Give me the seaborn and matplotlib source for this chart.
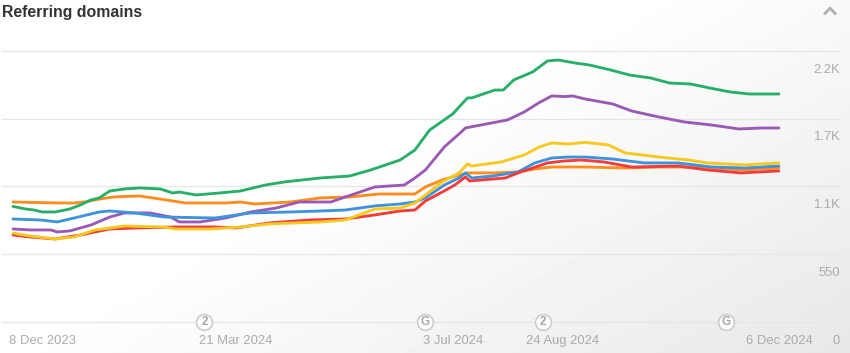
import numpy as np
import pandas as pd
import matplotlib
matplotlib.use("Agg")
import matplotlib.pyplot as plt
import seaborn as sns

# days since 8 Dec 2023 / referring domains
green_days = [0, 6, 10, 14, 20, 27, 32, 37, 41, 46, 53, 60, 70, 76, 79, 87, 98, 108, 120, 129, 146, 160, 170, 184, 191, 198, 209, 216, 218, 229, 233, 238, 247, 254, 259, 267, 274, 284, 293, 303, 312, 322, 331, 341, 350, 357, 364]
green_vals = [938, 917, 909, 893, 893, 917, 950, 990, 1007, 1063, 1080, 1088, 1080, 1047, 1055, 1031, 1047, 1063, 1112, 1137, 1169, 1185, 1234, 1315, 1396, 1558, 1689, 1819, 1819, 1883, 1883, 1965, 2030, 2119, 2127, 2103, 2086, 2046, 2005, 1981, 1940, 1932, 1900, 1867, 1851, 1851, 1851]
purple_days = [0, 8, 18, 21, 27, 37, 46, 53, 65, 75, 79, 89, 101, 113, 125, 136, 151, 158, 172, 186, 191, 196, 205, 213, 215, 235, 243, 250, 256, 262, 266, 272, 285, 294, 307, 319, 332, 345, 356, 364]
purple_vals = [755, 747, 747, 731, 739, 787, 852, 885, 885, 852, 812, 812, 844, 893, 925, 974, 974, 1015, 1096, 1112, 1169, 1234, 1421, 1542, 1575, 1640, 1705, 1780, 1835, 1830, 1835, 1810, 1770, 1713, 1664, 1624, 1599, 1567, 1575, 1575]
blue_days = [0, 13, 21, 29, 41, 46, 58, 72, 96, 113, 132, 146, 158, 172, 184, 191, 196, 205, 212, 215, 218, 228, 240, 248, 256, 264, 272, 285, 300, 316, 332, 348, 364]
blue_vals = [836, 828, 812, 844, 893, 901, 885, 852, 844, 885, 893, 901, 909, 942, 958, 974, 1007, 1112, 1169, 1210, 1169, 1185, 1218, 1291, 1331, 1339, 1339, 1323, 1291, 1291, 1258, 1250, 1266]
orange_days = [0, 22, 29, 34, 41, 48, 60, 70, 82, 101, 108, 115, 132, 146, 160, 174, 191, 196, 204, 212, 216, 228, 240, 248, 256, 272, 291, 307, 323, 338, 348, 364]
orange_vals = [974, 966, 966, 974, 998, 1015, 1023, 998, 966, 966, 974, 958, 974, 1007, 1015, 1039, 1039, 1096, 1153, 1193, 1210, 1210, 1218, 1242, 1258, 1258, 1250, 1258, 1258, 1242, 1234, 1250]
yellow_days = [0, 8, 20, 29, 39, 53, 72, 77, 94, 108, 122, 146, 158, 172, 184, 191, 196, 204, 212, 216, 218, 232, 243, 250, 256, 264, 272, 283, 291, 307, 321, 330, 348, 364]
yellow_vals = [722, 698, 674, 690, 747, 779, 771, 755, 755, 771, 796, 812, 828, 917, 925, 966, 1031, 1137, 1210, 1283, 1266, 1299, 1356, 1420, 1453, 1445, 1458, 1437, 1372, 1339, 1315, 1291, 1275, 1291]
red_days = [0, 8, 20, 32, 46, 58, 77, 96, 106, 122, 141, 158, 172, 184, 191, 196, 204, 210, 215, 217, 234, 240, 254, 262, 270, 281, 294, 316, 330, 346, 364]
red_vals = [706, 690, 674, 706, 755, 763, 771, 771, 763, 804, 828, 836, 869, 901, 909, 982, 1055, 1112, 1177, 1145, 1169, 1210, 1291, 1307, 1315, 1299, 1258, 1266, 1234, 1210, 1226]

series_names = ["Orange", "Green", "Purple", "Blue", "Red", "Yellow"]
series_colors = ["#ff8c1f", "#27ae68", "#9b59b6", "#3f92dc", "#f23c3c", "#f7c81e"]

y_ticks = [2200, 1650, 1100, 550, 0]
y_tick_labels = ["2.2K", "1.7K", "1.1K", "550", "0"]
date_positions = [14, 106, 209, 261, 364]
date_labels = ["8 Dec 2023", "21 Mar 2024", "3 Jul 2024", "24 Aug 2024", "6 Dec 2024"]
event_days = [91, 196, 252, 339]
event_labels = ["2", "G", "2", "G"]

frames = []
for name, d, v in zip(
    series_names,
    [orange_days, green_days, purple_days, blue_days, red_days, yellow_days],
    [orange_vals, green_vals, purple_vals, blue_vals, red_vals, yellow_vals],
):
    frames.append(pd.DataFrame({"day": d, "value": v, "series": name}))
df = pd.concat(frames, ignore_index=True)

sns.set_theme(style="white")
plt.rcParams["font.family"] = ["Liberation Sans", "DejaVu Sans"]

fig = plt.figure(figsize=(8.5, 3.53), dpi=100)
ax = fig.add_axes([0, 0, 1, 1])
x_min, x_max = -6.18, 397.8
y_min, y_max = -252, 2614

# soft grey corner of the card
ny, nx = 60, 120
gx, gy = np.meshgrid(np.linspace(0, 1, nx), np.linspace(0, 1, ny))
shade = np.clip(gx + gy * 0.75 - 0.75, 0, 1)
ax.imshow(1 - shade * 0.09, extent=[x_min, x_max, y_min, y_max], origin="upper",
          cmap="gray", vmin=0, vmax=1, aspect="auto", zorder=0)

ax.hlines(y_ticks, x_min + 0.5, 393, color="#e6e6e6", lw=0.9, zorder=1)

sns.lineplot(data=df, x="day", y="value", hue="series", hue_order=series_names,
             palette=dict(zip(series_names, series_colors)), estimator=None,
             sort=False, lw=2.05, legend=False, ax=ax, zorder=3,
             solid_joinstyle="round")

ax.set_xlim(x_min, x_max)
ax.set_ylim(y_min, y_max)
ax.axis("off")

for val, lab in zip(y_ticks, y_tick_labels):
    ax.annotate(lab, xy=(393, val), xytext=(0, -13.4), textcoords="offset points",
                ha="right", va="center", fontsize=9.4, color="#ababab")

for pos, lab in zip(date_positions, date_labels):
    ax.annotate(lab, xy=(pos, 0), xytext=(0, -13.4), textcoords="offset points",
                ha="center", va="center", fontsize=9.4, color="#ababab")

ax.scatter(event_days, [0] * len(event_days), s=130, facecolor="white",
           edgecolor="#cccccc", linewidth=1.2, zorder=4)
for d, lab in zip(event_days, event_labels):
    ax.text(d, 0, lab, ha="center", va="center", fontsize=8.4, fontweight="bold",
            color="#a6a6a6", zorder=5)

ax.text(0.002, 0.966, "Referring domains", transform=ax.transAxes, ha="left", va="center",
        fontsize=11.4, fontweight="bold", color="#333333")

# collapse chevron
ax.plot([0.9695, 0.9765, 0.9835], [0.959, 0.977, 0.959], transform=ax.transAxes,
        color="#b0b0b0", lw=2.0, solid_capstyle="butt", zorder=5)

fig.savefig("out.png", dpi=100)
plt.close(fig)
